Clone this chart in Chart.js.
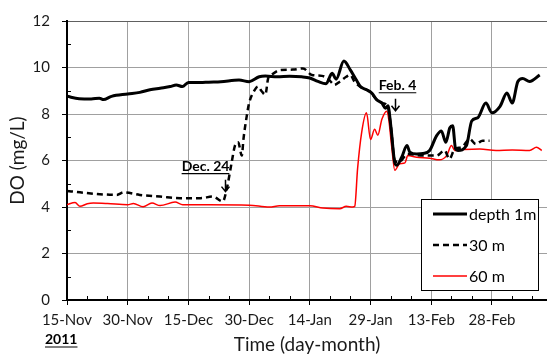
<!DOCTYPE html>
<html>
<head>
<meta charset="utf-8">
<script src="https://cdn.jsdelivr.net/npm/chart.js@4.4.1/dist/chart.umd.min.js"></script>
<style>
  html, body { margin: 0; padding: 0; background: #fff; }
  #wrap { width: 547px; height: 356px; }
</style>
</head>
<body>
<div id="wrap"><canvas id="doChart" width="547" height="356"></canvas></div>
<script>
// x values are days since 15-Nov-2011
const xTickLabels = ['15-Nov', '30-Nov', '15-Dec', '30-Dec', '14-Jan', '29-Jan', '13-Feb', '28-Feb'];

const depth1mDays = [0, 3, 6, 8, 9, 11, 15, 18, 20.5, 23, 25.5, 27, 28.5, 30, 33, 35, 38, 42.5, 45, 47.5,
  49, 52, 55, 58, 60, 62, 64, 65.5, 66.5, 68.4, 70, 71.5, 72.5, 74, 75.3, 76.5, 77.8, 78.7, 79.3, 80,
  81, 81.5, 82.7, 84, 84.7, 86.4, 88, 89.6, 91.3, 92.5, 93.6, 94.6, 95.3, 96, 96.6, 98.7, 100, 101.5, 103.5, 105,
  107, 108.7, 110, 111.4, 112.6, 114.3, 116.8];
const depth1mDO = [8.76, 8.66, 8.65, 8.68, 8.62, 8.76, 8.86, 8.93, 9.04, 9.11, 9.18, 9.25, 9.18, 9.36, 9.35, 9.37, 9.39, 9.46, 9.39, 9.6,
  9.63, 9.6, 9.62, 9.6, 9.55, 9.4, 9.3, 9.75, 9.5, 10.28, 9.9, 9.46, 9.18, 9.04, 8.9, 8.62, 8.47, 8.25, 8.35, 7.5,
  5.9, 5.8, 6.14, 6.64, 6.36, 6.28, 6.3, 6.43, 7.06, 7.27, 6.78, 7.41, 7.49, 6.5, 6.43, 6.64, 7.7, 7.84, 8.47, 8.05,
  8.33, 8.9, 8.47, 9.4, 9.53, 9.4, 9.68];

const depth30mDays = [0, 3.2, 7.4, 12.3, 14, 18, 23, 28, 33, 36, 38.5, 39.5, 40.7, 41.5, 42.3, 43.2, 43.6, 44.4, 45, 46.4,
  47.2, 48, 49, 49.7, 50.5, 52.6, 55.8, 58.3, 60.5, 63, 64.4, 65.4, 66, 67.4, 69, 70, 71, 73, 74.8, 76.5,
  78, 79.3, 80, 81, 82, 84.2, 88, 91.3, 93.3, 94.5, 95.8, 97.5, 99.5, 101, 102.7, 104.4];
const depth30mDO = [4.69, 4.63, 4.56, 4.52, 4.63, 4.52, 4.45, 4.38, 4.38, 4.45, 4.24, 4.8, 5.93, 6.64, 6.78, 6.21, 6.92, 7.9, 8.47, 9.04,
  9.18, 9.0, 8.83, 9.53, 9.68, 9.89, 9.91, 9.96, 9.68, 9.64, 9.53, 9.35, 9.25, 9.39, 9.6, 9.68, 9.4, 9.11, 8.97, 8.62,
  8.47, 8.3, 7.5, 6.0, 5.93, 6.28, 6.21, 6.21, 6.43, 6.07, 6.5, 6.57, 6.92, 6.71, 6.85, 6.85];

const depth60mDays = [0, 2, 3.2, 5, 6.5, 10, 15, 16.4, 18.8, 21, 23, 26.7, 28.6, 35, 45, 50, 52.5, 60, 63.2, 67.4,
  69, 70.6, 71.1, 71.8, 72.8, 74, 75, 76, 76.8, 77.8, 79, 79.5, 80.2, 81, 82.2, 83.5, 84.2, 86.4, 89.6, 92,
  93.8, 95, 95.8, 98, 102, 106, 110, 114.3, 116, 117.3];
const depth60mDO = [4.1, 4.19, 4.03, 4.14, 4.17, 4.15, 4.1, 4.15, 4.01, 4.17, 4.06, 4.21, 4.1, 4.1, 4.08, 4.0, 4.05, 4.05, 3.96, 3.93,
  4.03, 4.0, 4.03, 5.65, 7.2, 8.05, 6.9, 7.34, 7.09, 7.77, 8.12, 7.77, 6.64, 5.58, 5.86, 5.9, 6.21, 6.14, 6.1, 6.03,
  6.21, 6.64, 6.43, 6.47, 6.5, 6.43, 6.45, 6.43, 6.57, 6.43];

// event markers: label, day, DO level at the arrow tip
const eventLabels = ['Dec. 24', 'Feb. 4'];
const eventDays = [39, 81];
const eventLevels = [4.66, 8.14];

const FONT = 'Lato, "Open Sans", sans-serif';

function toPoints(days, values) {
  return days.map((d, i) => ({ x: d, y: values[i] }));
}

// minor ticks, event arrows, year label and the boxed legend
const decorPlugin = {
  id: 'decor',
  afterDraw(chart) {
    const { ctx, chartArea } = chart;
    const x = chart.scales.x, y = chart.scales.y;
    ctx.save();
    ctx.strokeStyle = '#000';
    ctx.lineWidth = 1;
    // minor ticks (inside)
    for (let v = 1; v < 12; v += 2) {
      const py = Math.round(y.getPixelForValue(v)) + 0.5;
      ctx.beginPath(); ctx.moveTo(chartArea.left, py); ctx.lineTo(chartArea.left + 4, py); ctx.stroke();
    }
    for (let d = 5; d < x.max; d += 5) {
      if (d % 15 === 0) continue;
      const px = Math.round(x.getPixelForValue(d)) + 0.5;
      ctx.beginPath(); ctx.moveTo(px, chartArea.bottom); ctx.lineTo(px, chartArea.bottom - 4); ctx.stroke();
    }

    // event labels with arrows
    ctx.fillStyle = '#000';
    ctx.font = 'bold 14px ' + FONT;
    ctx.textBaseline = 'alphabetic';
    const textShift = [-20, 2];
    eventLabels.forEach((lab, i) => {
      const ax = Math.round(x.getPixelForValue(eventDays[i])) + 0.5;
      const tip = y.getPixelForValue(eventLevels[i]);
      const w = ctx.measureText(lab).width;
      const cx = ax + textShift[i];
      const base = tip - 21;
      ctx.textAlign = 'center';
      ctx.fillText(lab, cx, base);
      ctx.lineWidth = 1.2;
      ctx.beginPath(); ctx.moveTo(cx - w / 2, base + 3); ctx.lineTo(cx + w / 2, base + 3); ctx.stroke();
      ctx.lineWidth = 1.5;
      ctx.beginPath();
      ctx.moveTo(ax, tip - 12); ctx.lineTo(ax, tip);
      ctx.moveTo(ax - 4, tip - 5); ctx.lineTo(ax, tip); ctx.lineTo(ax + 4, tip - 5);
      ctx.stroke();
    });

    // year under the first tick label
    ctx.font = 'bold 14px ' + FONT;
    ctx.textAlign = 'left';
    ctx.fillText('2011', 45, 344);
    const yw = ctx.measureText('2011').width;
    ctx.lineWidth = 1.2;
    ctx.beginPath(); ctx.moveTo(45, 347); ctx.lineTo(45 + yw, 347); ctx.stroke();

    // legend box
    const bx = 421.5, by = 199.5, bw = 117, bh = 91;
    ctx.fillStyle = '#fff';
    ctx.fillRect(bx, by, bw, bh);
    ctx.strokeStyle = '#000';
    ctx.lineWidth = 1;
    ctx.strokeRect(bx, by, bw, bh);
    const rows = [214, 245, 276];
    ctx.font = '16px ' + FONT;
    ctx.textBaseline = 'middle';
    chart.data.datasets.forEach((ds, i) => {
      ctx.strokeStyle = ds.borderColor;
      ctx.lineWidth = ds.borderWidth;
      ctx.setLineDash(ds.borderDash || []);
      ctx.beginPath(); ctx.moveTo(433, rows[i]); ctx.lineTo(467, rows[i]); ctx.stroke();
      ctx.setLineDash([]);
      ctx.fillStyle = '#000';
      ctx.fillText(ds.label, 469, rows[i] + 1);
    });
    ctx.restore();
  }
};

const ctx = document.getElementById('doChart').getContext('2d');
const doChart = new Chart(ctx, {
  type: 'line',
  data: {
    datasets: [{
      label: 'depth 1m',
      data: toPoints(depth1mDays, depth1mDO),
      borderColor: '#000',
      borderWidth: 3,
      pointRadius: 0,
      cubicInterpolationMode: 'monotone',
      fill: false
    }, {
      label: '30 m',
      data: toPoints(depth30mDays, depth30mDO),
      borderColor: '#000',
      borderWidth: 2.5,
      borderDash: [6, 4],
      pointRadius: 0,
      cubicInterpolationMode: 'monotone',
      fill: false
    }, {
      label: '60 m',
      data: toPoints(depth60mDays, depth60mDO),
      borderColor: '#ff0000',
      borderWidth: 1.5,
      pointRadius: 0,
      cubicInterpolationMode: 'monotone',
      fill: false
    }]
  },
  options: {
    responsive: false,
    animation: false,
    layout: { padding: { top: 17, right: 0, left: 0, bottom: 0 } },
    plugins: {
      legend: { display: false },
      tooltip: { enabled: false }
    },
    scales: {
      x: {
        type: 'linear',
        min: 0,
        max: 118.6,
        afterFit: (s) => { s.height = 56; },
        afterBuildTicks: (s) => {
          s.ticks = xTickLabels.map((_, i) => ({ value: i * 15 }));
        },
        ticks: {
          autoSkip: false,
          maxRotation: 0,
          padding: 6,
          color: '#1a1a1a',
          font: { family: FONT, size: 15 },
          callback: (v) => xTickLabels[Math.round(v / 15)]
        },
        grid: { color: '#a0a0a0', lineWidth: 1, tickColor: '#000', tickLength: 5 },
        border: { color: '#000', width: 2 },
        title: {
          display: true,
          text: 'Time (day-month)',
          color: '#1a1a1a',
          font: { family: FONT, size: 19 },
          padding: { top: 0, bottom: 0 }
        }
      },
      y: {
        min: 0,
        max: 12,
        afterFit: (s) => { s.width = 67; },
        ticks: {
          stepSize: 2,
          padding: 12,
          color: '#1a1a1a',
          font: { family: FONT, size: 15 }
        },
        grid: {
          color: (c) => (c.tick && c.tick.value === 12 ? '#606060' : '#a0a0a0'),
          lineWidth: 1,
          tickColor: '#000',
          tickLength: 5
        },
        border: { color: '#000', width: 2 },
        title: {
          display: true,
          text: 'DO (mg/L)',
          color: '#1a1a1a',
          font: { family: FONT, size: 19 },
          padding: { top: 6, bottom: 0 }
        }
      }
    }
  },
  plugins: [decorPlugin]
});
</script>
</body>
</html>
